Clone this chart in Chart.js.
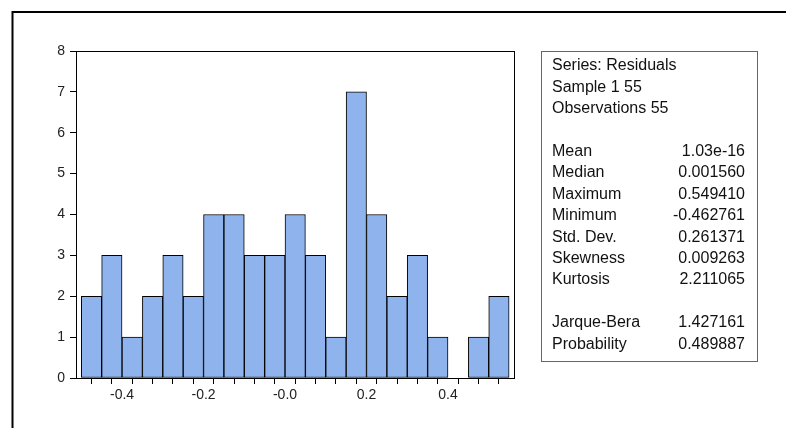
<!DOCTYPE html>
<html>
<head>
<meta charset="utf-8">
<script src="https://cdn.jsdelivr.net/npm/chart.js@4.4.1/dist/chart.umd.min.js"></script>
<style>
  body { margin: 0; background: #fff; }
  #wrap { position: relative; width: 786px; height: 428px; }
</style>
</head>
<body>
<div id="wrap"><canvas id="hist" width="786" height="428"></canvas></div>
<script>
// bin centres (width 0.05) and counts
const binCentres = [-0.475, -0.425, -0.375, -0.325, -0.275, -0.225, -0.175, -0.125, -0.075, -0.025,
  0.025, 0.075, 0.125, 0.175, 0.225, 0.275, 0.325, 0.375, 0.425, 0.475, 0.525];
const counts = [2, 3, 1, 2, 3, 2, 4, 4, 3, 3, 4, 3, 1, 7, 4, 2, 3, 1, 0, 1, 2];

// x tick marks at every bin edge, labels only on some
const binEdges = [-0.5, -0.45, -0.4, -0.35, -0.3, -0.25, -0.2, -0.15, -0.1, -0.05, 0,
  0.05, 0.1, 0.15, 0.2, 0.25, 0.3, 0.35, 0.4, 0.45, 0.5, 0.55];
const xLabelValues = [-0.4, -0.2, 0, 0.2, 0.4];
const xLabelTexts = ['-0.4', '-0.2', '-0.0', '0.2', '0.4'];

// statistics panel
const headerLines = ['Series: Residuals', 'Sample 1 55', 'Observations 55'];
const statNames = ['Mean', 'Median', 'Maximum', 'Minimum', 'Std. Dev.', 'Skewness', 'Kurtosis'];
const statValues = ['1.03e-16', '0.001560', '0.549410', '-0.462761', '0.261371', '0.009263', '2.211065'];
const testNames = ['Jarque-Bera', 'Probability'];
const testValues = ['1.427161', '0.489887'];

const fuente = 'Liberation Sans, Arial, sans-serif';

const marcos = {
  id: 'marcos',
  beforeDraw(chart) {
    const ctx = chart.ctx;
    ctx.save();
    ctx.fillStyle = '#fff';
    ctx.fillRect(0, 0, chart.width, chart.height);
    // outer frame of the graph window
    ctx.strokeStyle = '#000';
    ctx.lineWidth = 2;
    ctx.beginPath();
    ctx.moveTo(12.5, chart.height + 2);
    ctx.lineTo(12.5, 12);
    ctx.lineTo(chart.width + 2, 12);
    ctx.stroke();
    ctx.restore();
  },
  afterDraw(chart) {
    const ctx = chart.ctx;
    const a = chart.chartArea;
    ctx.save();
    // box round the plot
    ctx.strokeStyle = '#000';
    ctx.lineWidth = 1;
    ctx.strokeRect(Math.round(a.left) + 0.5, Math.round(a.top) + 0.5,
      Math.round(a.right - a.left), Math.round(a.bottom - a.top));

    // statistics panel
    const bx = 541, by = 51, bw = 216, bh = 310;
    ctx.strokeStyle = '#666';
    ctx.strokeRect(bx + 0.5, by + 0.5, bw, bh);
    ctx.fillStyle = '#111';
    ctx.font = '16px ' + fuente;
    ctx.textBaseline = 'middle';
    const paso = 21.4;
    const y0 = 66;
    const izq = 552, der = 745;
    headerLines.forEach((t, i) => {
      ctx.textAlign = 'left';
      ctx.fillText(t, izq, y0 + paso * i);
    });
    statNames.forEach((t, i) => {
      const y = y0 + paso * (i + 4);
      ctx.textAlign = 'left';
      ctx.fillText(t, izq, y);
      ctx.textAlign = 'right';
      ctx.fillText(statValues[i], der, y);
    });
    testNames.forEach((t, i) => {
      const y = y0 + paso * (i + 12);
      ctx.textAlign = 'left';
      ctx.fillText(t, izq, y);
      ctx.textAlign = 'right';
      ctx.fillText(testValues[i], der, y);
    });
    ctx.restore();
  }
};

const ctx = document.getElementById('hist').getContext('2d');
new Chart(ctx, {
  type: 'bar',
  data: {
    datasets: [{
      data: binCentres.map((c, i) => ({ x: c, y: counts[i] })),
      backgroundColor: '#8fb3ec',
      borderColor: '#000',
      borderWidth: 1,
      borderSkipped: false,
      barPercentage: 1,
      categoryPercentage: 1
    }]
  },
  options: {
    responsive: false,
    animation: false,
    devicePixelRatio: 1,
    layout: { padding: { left: 0, top: 51, right: 272, bottom: 0 } },
    plugins: { legend: { display: false }, tooltip: { enabled: false } },
    scales: {
      x: {
        type: 'linear',
        offset: false,
        min: -0.513,
        max: 0.562,
        afterBuildTicks: scale => {
          scale.ticks = binEdges.map(v => ({ value: v }));
        },
        afterFit: scale => { scale.height = 50; },
        grid: { display: true, drawOnChartArea: false, drawTicks: true, tickLength: 6, color: '#000' },
        border: { display: true, color: '#000', width: 1 },
        ticks: {
          autoSkip: false,
          maxRotation: 0,
          padding: 3,
          color: '#222',
          font: { family: fuente, size: 14 },
          callback: v => {
            const k = xLabelValues.findIndex(l => Math.abs(l - v) < 1e-9);
            return k >= 0 ? xLabelTexts[k] : '';
          }
        }
      },
      y: {
        min: 0,
        max: 8,
        afterFit: scale => { scale.width = 76; },
        grid: { display: true, drawOnChartArea: false, drawTicks: true, tickLength: 6, color: '#000' },
        border: { display: true, color: '#000', width: 1 },
        ticks: {
          stepSize: 1,
          padding: 5,
          color: '#222',
          font: { family: fuente, size: 14 }
        }
      }
    }
  },
  plugins: [marcos]
});
</script>
</body>
</html>
